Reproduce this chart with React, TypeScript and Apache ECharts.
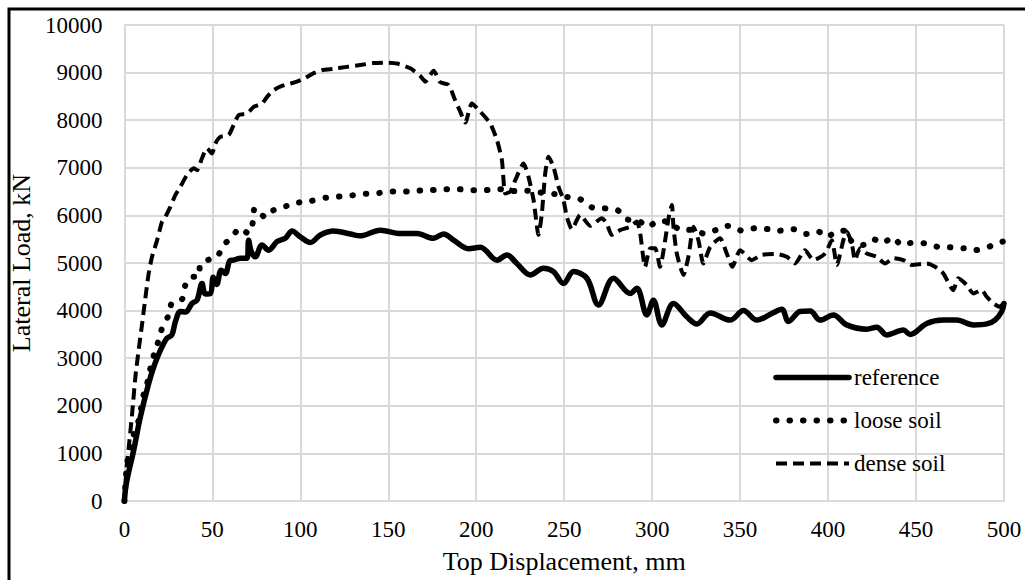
import React, { useEffect, useRef } from "react";
import * as echarts from "echarts";

const seriesNames = ["reference", "loose soil", "dense soil"];
const xTitle = "Top Displacement, mm";
const yTitle = "Lateral Load, kN";

const referenceData: [number, number][] = [
  [0, 0], [1.1, 370], [5.3, 1070], [9.1, 1770], [13.8, 2470], [17, 2850], [20.5, 3170], [24.2, 3420],
  [27, 3490], [29, 3770], [31.8, 3980], [34.7, 3970], [38.4, 4150], [41.3, 4220], [44.1, 4570], [46, 4350],
  [48.9, 4360], [50.5, 4700], [52.5, 4550], [55, 4850], [57.4, 4780], [60, 5050], [62, 5060], [66, 5100],
  [69.7, 5100], [70.6, 5480], [72, 5250], [74.4, 5130], [78.2, 5380], [82, 5270], [86.8, 5450], [91.5, 5520],
  [95.3, 5670], [100, 5550], [105.7, 5430], [111.4, 5590], [118.9, 5670], [128.4, 5610], [134, 5570],
  [145.5, 5690], [156.8, 5620], [166.3, 5620], [175.7, 5520], [181.4, 5610], [187.1, 5480], [195.6, 5300],
  [202.3, 5330], [211.8, 5060], [217.4, 5170], [223.1, 4990], [230.7, 4750], [238.2, 4890], [243.9, 4820],
  [249.6, 4570], [255.3, 4820], [262.9, 4680], [269.5, 4120], [278, 4680], [287.5, 4360], [291.3, 4470],
  [297, 3910], [300.7, 4220], [305.5, 3700], [312.1, 4150], [319.7, 3870], [325.4, 3720], [333, 3950],
  [344.3, 3800], [351.9, 4000], [359.5, 3800], [368, 3940], [373.7, 4030], [377.5, 3770], [384.1, 3980],
  [389.8, 3990], [395.5, 3800], [403, 3910], [410.6, 3700], [422, 3610], [427.7, 3650], [433.3, 3490],
  [442.8, 3590], [446.6, 3500], [456.1, 3730], [465.5, 3800], [473.1, 3800], [482.6, 3700], [490.2, 3720],
  [494.9, 3800], [498.7, 3980], [500, 4150],
];

const looseData: [number, number][] = [
  [0, 0], [1.5, 780], [4, 1250], [8.1, 1700], [11, 2250], [12.9, 2470], [14.8, 2790], [17, 3100],
  [19.5, 3380], [21.4, 3630], [25.2, 3910], [27.1, 4170], [32.8, 4240], [34.7, 4540], [38.4, 4710],
  [42.2, 4710], [43.2, 4980], [47.9, 5070], [52.7, 5130], [56.4, 5380], [61.2, 5540], [65.5, 5730],
  [70.6, 5620], [73.1, 5870], [74, 6150], [77.3, 6040], [80.1, 5960], [84.8, 6110], [92.4, 6200],
  [99, 6270], [105.7, 6300], [112.3, 6360], [119.9, 6390], [127.4, 6410], [135, 6450], [142.6, 6460],
  [150.7, 6500], [158.7, 6500], [166.3, 6520], [174.3, 6530], [182.4, 6550], [190, 6550], [197.5, 6530],
  [205.1, 6530], [213.3, 6550], [221.2, 6510], [228.8, 6520], [236.4, 6480], [244.3, 6450], [251.5, 6390],
  [259.1, 6340], [265.7, 6170], [272.7, 6150], [280.3, 6110], [285.6, 5920], [292.2, 5890], [297.6, 5760],
  [303.6, 5890], [310, 5850], [316.5, 5690], [323, 5700], [330.1, 5610], [336.7, 5700], [343.4, 5780],
  [350.9, 5680], [358.5, 5730], [366.1, 5710], [372.7, 5680], [380.3, 5710], [387.5, 5610], [394.5, 5660],
  [398.9, 5550], [406.8, 5680], [410.6, 5670], [413.5, 5450], [420, 5380], [425.7, 5500], [431, 5420],
  [436.7, 5540], [441.8, 5380], [448.5, 5430], [455.1, 5410], [462.3, 5340], [469.3, 5330], [476.9, 5310],
  [483.5, 5270], [488.2, 5290], [493.9, 5380], [499.3, 5450],
];

const denseData: [number, number][] = [
  [0, 0], [1.1, 650], [2.5, 1140], [4.4, 1840], [6.25, 2610], [8.1, 3170], [10, 3700], [11.9, 4260],
  [13.8, 4780], [15.7, 5130], [18.6, 5480], [21.4, 5870], [23.3, 5970], [26.1, 6180], [29, 6430],
  [31.8, 6600], [35.6, 6850], [39.4, 6990], [41.3, 6950], [44.1, 7200], [47, 7410], [49.8, 7300],
  [51.7, 7510], [54.5, 7650], [59.3, 7690], [62.1, 7900], [65, 8110], [69.7, 8140], [73.5, 8280],
  [78.2, 8350], [81.1, 8490], [84.8, 8630], [89.6, 8720], [96.2, 8790], [101.9, 8870], [107.6, 8990],
  [112.3, 9050], [118.9, 9080], [126.5, 9120], [134.1, 9160], [141.6, 9200], [149.3, 9210], [155, 9190],
  [162.5, 9090], [168.2, 8930], [171, 8810], [175.8, 9040], [179.5, 8800], [184.3, 8740], [188, 8420],
  [190.9, 8180], [193.8, 7950], [197.5, 8350], [202.3, 8180], [208, 7930], [211.8, 7580], [214.6, 7160],
  [216.5, 6460], [219.3, 6500], [222.2, 6740], [226.9, 7090], [229.7, 6810], [232.6, 6320], [235.4, 5590],
  [237.3, 6040], [239.2, 6880], [241.1, 7230], [243.9, 7020], [246.8, 6600], [249.6, 6320], [251.5, 5970],
  [254.4, 5710], [259.1, 6010], [264.8, 5780], [271.4, 5940], [274.2, 5830], [277, 5590], [281.8, 5690],
  [287.5, 5760], [291.3, 5870], [293.2, 5620], [296, 4920], [298.9, 5310], [301.7, 5310], [304.5, 4920],
  [307.4, 5480], [309.3, 5940], [311.2, 6220], [312.1, 5760], [314, 5200], [317.8, 4750], [320.6, 5130],
  [323.5, 5760], [326.3, 5480], [329.1, 4990], [333, 5340], [338.6, 5520], [342.4, 5200], [345.6, 4920],
  [350, 5270], [356.6, 5060], [362.3, 5170], [370.8, 5190], [376.5, 5130], [381.3, 4990], [386.9, 5270],
  [391.7, 5060], [398.3, 5200], [402.1, 5480], [405, 4960], [408.7, 5480], [410.6, 5660], [413.5, 5410],
  [415.3, 5060], [418.2, 5310], [422, 5200], [427.7, 5130], [432.4, 4990], [437.1, 5100], [442.8, 5060],
  [447.5, 4960], [456.1, 4990], [460.8, 4920], [465.5, 4780], [471.2, 4430], [474, 4680], [478.8, 4540],
  [482.6, 4360], [487.3, 4430], [490.2, 4290], [494, 4150], [497.7, 4080], [499.6, 4150],
];

const FONT = "Liberation Serif";

export default function App() {
  const ref = useRef<HTMLDivElement>(null);
  useEffect(() => {
    if (!ref.current) return;
    const chart = echarts.init(ref.current, undefined, { renderer: "svg" });
    chart.setOption({
      animation: false,
      backgroundColor: "#ffffff",
      textStyle: { fontFamily: FONT, color: "#000" },
      grid: { left: 124, right: 21, top: 25, bottom: 79 },
      graphic: [
        {
          type: "rect",
          shape: { x: 9, y: 9, width: 1100, height: 700 },
          style: { fill: "none", stroke: "#000", lineWidth: 3 },
          silent: true,
          z: 100,
        },
      ],
      legend: {
        orient: "vertical",
        left: 773,
        top: 366,
        padding: 0,
        itemGap: 20,
        itemWidth: 73,
        itemHeight: 14,
        data: seriesNames,
        itemStyle: { opacity: 0 },
        lineStyle: { width: "inherit", type: "inherit", cap: "inherit" },
        textStyle: { fontFamily: FONT, fontSize: 23, color: "#000", lineHeight: 23 },
      },
      xAxis: {
        type: "value",
        min: 0,
        max: 500,
        interval: 50,
        name: xTitle,
        nameLocation: "middle",
        nameGap: 47,
        nameTextStyle: { fontFamily: FONT, fontSize: 26, color: "#000", lineHeight: 26 },
        axisLine: { show: true, lineStyle: { color: "#d9d9d9", width: 2 } },
        axisTick: { show: false },
        axisLabel: {
          fontFamily: FONT,
          fontSize: 23,
          color: "#000",
          margin: 17,
          lineHeight: 23,
          formatter: (v: number) => String(v),
        },
        splitLine: { show: true, lineStyle: { color: "#d9d9d9", width: 2 } },
      },
      yAxis: {
        type: "value",
        min: 0,
        max: 10000,
        interval: 1000,
        name: yTitle,
        nameLocation: "middle",
        nameGap: 75,
        nameTextStyle: { fontFamily: FONT, fontSize: 26, color: "#000", lineHeight: 26 },
        axisLine: { show: true, lineStyle: { color: "#d9d9d9", width: 2 } },
        axisTick: { show: false },
        axisLabel: {
          fontFamily: FONT,
          fontSize: 23,
          color: "#000",
          margin: 22,
          formatter: (v: number) => String(v),
        },
        splitLine: { show: true, lineStyle: { color: "#d9d9d9", width: 2 } },
      },
      series: [
        {
          name: seriesNames[0],
          type: "line",
          data: referenceData,
          showSymbol: false,
          symbol: "none",
          smooth: 0.35,
          z: 5,
          lineStyle: { color: "#000", width: 5.5, type: "solid", cap: "round", join: "round" },
          itemStyle: { color: "#000" },
        },
        {
          name: seriesNames[1],
          type: "line",
          data: looseData,
          showSymbol: false,
          symbol: "none",
          smooth: 0.25,
          z: 4,
          lineStyle: { color: "#000", width: 6, type: [0.5, 13], cap: "round", join: "round" },
          itemStyle: { color: "#000" },
        },
        {
          name: seriesNames[2],
          type: "line",
          data: denseData,
          showSymbol: false,
          symbol: "none",
          smooth: 0.2,
          z: 3,
          lineStyle: { color: "#000", width: 4, type: [11, 6], cap: "butt", join: "round" },
          itemStyle: { color: "#000" },
        },
      ],
    });
    return () => chart.dispose();
  }, []);
  return (
    <div
      ref={ref}
      style={{ position: "absolute", left: 0, top: 0, width: 1025, height: 580, background: "#fff" }}
    />
  );
}
